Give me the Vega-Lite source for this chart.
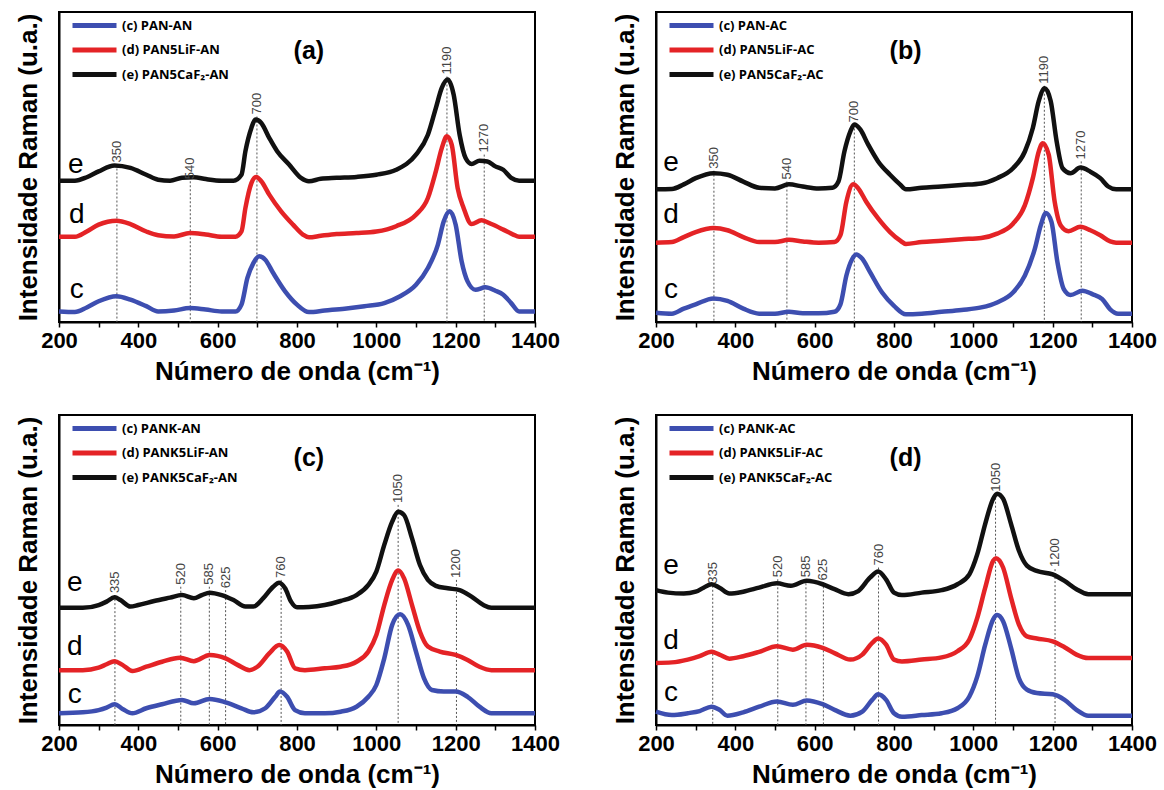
{
"$schema":"https://vega.github.io/schema/vega-lite/v6.json",
"background":"white",
"padding":{"left":14,"top":11,"right":5,"bottom":5},
"bounds":"flush",
"columns":2,
"spacing":{"column":121,"row":93},
"datasets":{
"spectra":[
{"p":"a","k":"e","x":200,"y":45.6},{"p":"a","k":"e","x":240,"y":45.6},{"p":"a","k":"e","x":270,"y":46.7},{"p":"a","k":"e","x":300,"y":48.6},{"p":"a","k":"e","x":340,"y":50.5},{"p":"a","k":"e","x":380,"y":49.7},{"p":"a","k":"e","x":420,"y":47.5},{"p":"a","k":"e","x":450,"y":45.9},{"p":"a","k":"e","x":480,"y":45.6},{"p":"a","k":"e","x":510,"y":46.5},{"p":"a","k":"e","x":540,"y":46.7},{"p":"a","k":"e","x":570,"y":46.1},{"p":"a","k":"e","x":610,"y":45.6},{"p":"a","k":"e","x":640,"y":45.6},{"p":"a","k":"e","x":660,"y":47.5},{"p":"a","k":"e","x":670,"y":55.1},{"p":"a","k":"e","x":685,"y":62.6},{"p":"a","k":"e","x":695,"y":65.3},{"p":"a","k":"e","x":710,"y":64.2},{"p":"a","k":"e","x":730,"y":59.4},{"p":"a","k":"e","x":750,"y":55.1},{"p":"a","k":"e","x":780,"y":50.8},{"p":"a","k":"e","x":810,"y":46.5},{"p":"a","k":"e","x":830,"y":45.4},{"p":"a","k":"e","x":860,"y":46.2},{"p":"a","k":"e","x":900,"y":46.5},{"p":"a","k":"e","x":950,"y":46.8},{"p":"a","k":"e","x":1000,"y":47.5},{"p":"a","k":"e","x":1050,"y":49.1},{"p":"a","k":"e","x":1100,"y":54.0},{"p":"a","k":"e","x":1130,"y":60.4},{"p":"a","k":"e","x":1150,"y":69.0},{"p":"a","k":"e","x":1165,"y":75.5},{"p":"a","k":"e","x":1180,"y":78.2},{"p":"a","k":"e","x":1195,"y":73.3},{"p":"a","k":"e","x":1210,"y":60.4},{"p":"a","k":"e","x":1225,"y":52.9},{"p":"a","k":"e","x":1240,"y":51.0},{"p":"a","k":"e","x":1260,"y":52.0},{"p":"a","k":"e","x":1280,"y":51.8},{"p":"a","k":"e","x":1300,"y":50.2},{"p":"a","k":"e","x":1320,"y":49.1},{"p":"a","k":"e","x":1340,"y":46.5},{"p":"a","k":"e","x":1360,"y":45.6},{"p":"a","k":"e","x":1400,"y":45.6},
{"p":"a","k":"d","x":200,"y":27.5},{"p":"a","k":"d","x":240,"y":27.5},{"p":"a","k":"d","x":270,"y":29.2},{"p":"a","k":"d","x":300,"y":31.4},{"p":"a","k":"d","x":345,"y":32.7},{"p":"a","k":"d","x":380,"y":31.6},{"p":"a","k":"d","x":420,"y":29.2},{"p":"a","k":"d","x":450,"y":28.0},{"p":"a","k":"d","x":490,"y":27.6},{"p":"a","k":"d","x":530,"y":28.7},{"p":"a","k":"d","x":570,"y":28.2},{"p":"a","k":"d","x":610,"y":27.5},{"p":"a","k":"d","x":645,"y":27.5},{"p":"a","k":"d","x":660,"y":29.2},{"p":"a","k":"d","x":670,"y":36.8},{"p":"a","k":"d","x":685,"y":44.8},{"p":"a","k":"d","x":697,"y":46.8},{"p":"a","k":"d","x":710,"y":45.4},{"p":"a","k":"d","x":730,"y":41.1},{"p":"a","k":"d","x":760,"y":35.7},{"p":"a","k":"d","x":790,"y":31.4},{"p":"a","k":"d","x":815,"y":28.2},{"p":"a","k":"d","x":830,"y":27.3},{"p":"a","k":"d","x":860,"y":27.8},{"p":"a","k":"d","x":900,"y":28.4},{"p":"a","k":"d","x":950,"y":28.7},{"p":"a","k":"d","x":1000,"y":29.2},{"p":"a","k":"d","x":1050,"y":30.9},{"p":"a","k":"d","x":1100,"y":34.6},{"p":"a","k":"d","x":1130,"y":40.0},{"p":"a","k":"d","x":1150,"y":48.6},{"p":"a","k":"d","x":1165,"y":56.1},{"p":"a","k":"d","x":1178,"y":59.9},{"p":"a","k":"d","x":1190,"y":57.2},{"p":"a","k":"d","x":1205,"y":43.2},{"p":"a","k":"d","x":1220,"y":36.8},{"p":"a","k":"d","x":1240,"y":31.6},{"p":"a","k":"d","x":1265,"y":32.8},{"p":"a","k":"d","x":1290,"y":31.6},{"p":"a","k":"d","x":1320,"y":29.8},{"p":"a","k":"d","x":1345,"y":28.2},{"p":"a","k":"d","x":1360,"y":27.5},{"p":"a","k":"d","x":1400,"y":27.5},
{"p":"a","k":"c","x":200,"y":3.4},{"p":"a","k":"c","x":240,"y":3.2},{"p":"a","k":"c","x":270,"y":4.7},{"p":"a","k":"c","x":300,"y":6.7},{"p":"a","k":"c","x":345,"y":8.3},{"p":"a","k":"c","x":380,"y":7.2},{"p":"a","k":"c","x":420,"y":5.1},{"p":"a","k":"c","x":450,"y":3.4},{"p":"a","k":"c","x":490,"y":3.7},{"p":"a","k":"c","x":530,"y":4.5},{"p":"a","k":"c","x":570,"y":4.0},{"p":"a","k":"c","x":610,"y":3.4},{"p":"a","k":"c","x":645,"y":3.4},{"p":"a","k":"c","x":660,"y":5.6},{"p":"a","k":"c","x":675,"y":14.2},{"p":"a","k":"c","x":690,"y":19.0},{"p":"a","k":"c","x":705,"y":21.2},{"p":"a","k":"c","x":720,"y":20.1},{"p":"a","k":"c","x":740,"y":15.8},{"p":"a","k":"c","x":770,"y":9.9},{"p":"a","k":"c","x":800,"y":5.6},{"p":"a","k":"c","x":830,"y":3.2},{"p":"a","k":"c","x":870,"y":3.7},{"p":"a","k":"c","x":920,"y":4.3},{"p":"a","k":"c","x":970,"y":5.1},{"p":"a","k":"c","x":1020,"y":6.1},{"p":"a","k":"c","x":1060,"y":8.3},{"p":"a","k":"c","x":1100,"y":12.0},{"p":"a","k":"c","x":1130,"y":17.4},{"p":"a","k":"c","x":1155,"y":24.9},{"p":"a","k":"c","x":1170,"y":32.5},{"p":"a","k":"c","x":1185,"y":35.7},{"p":"a","k":"c","x":1200,"y":31.4},{"p":"a","k":"c","x":1215,"y":19.6},{"p":"a","k":"c","x":1230,"y":13.1},{"p":"a","k":"c","x":1250,"y":10.4},{"p":"a","k":"c","x":1275,"y":11.2},{"p":"a","k":"c","x":1300,"y":10.1},{"p":"a","k":"c","x":1320,"y":8.8},{"p":"a","k":"c","x":1340,"y":6.1},{"p":"a","k":"c","x":1360,"y":3.4},{"p":"a","k":"c","x":1400,"y":3.4},
{"p":"b","k":"e","x":200,"y":42.8},{"p":"b","k":"e","x":240,"y":42.9},{"p":"b","k":"e","x":270,"y":44.4},{"p":"b","k":"e","x":300,"y":46.4},{"p":"b","k":"e","x":345,"y":48.0},{"p":"b","k":"e","x":380,"y":47.5},{"p":"b","k":"e","x":420,"y":45.3},{"p":"b","k":"e","x":460,"y":43.3},{"p":"b","k":"e","x":500,"y":43.1},{"p":"b","k":"e","x":535,"y":44.4},{"p":"b","k":"e","x":570,"y":43.7},{"p":"b","k":"e","x":610,"y":43.1},{"p":"b","k":"e","x":645,"y":43.3},{"p":"b","k":"e","x":660,"y":45.3},{"p":"b","k":"e","x":675,"y":55.0},{"p":"b","k":"e","x":690,"y":61.5},{"p":"b","k":"e","x":700,"y":63.7},{"p":"b","k":"e","x":715,"y":62.1},{"p":"b","k":"e","x":735,"y":57.2},{"p":"b","k":"e","x":760,"y":51.8},{"p":"b","k":"e","x":790,"y":47.5},{"p":"b","k":"e","x":815,"y":44.4},{"p":"b","k":"e","x":830,"y":42.8},{"p":"b","k":"e","x":870,"y":43.3},{"p":"b","k":"e","x":920,"y":43.7},{"p":"b","k":"e","x":970,"y":44.2},{"p":"b","k":"e","x":1020,"y":44.7},{"p":"b","k":"e","x":1060,"y":46.4},{"p":"b","k":"e","x":1100,"y":49.6},{"p":"b","k":"e","x":1130,"y":55.0},{"p":"b","k":"e","x":1150,"y":62.6},{"p":"b","k":"e","x":1165,"y":71.3},{"p":"b","k":"e","x":1180,"y":75.4},{"p":"b","k":"e","x":1195,"y":71.3},{"p":"b","k":"e","x":1210,"y":58.3},{"p":"b","k":"e","x":1225,"y":49.6},{"p":"b","k":"e","x":1245,"y":48.0},{"p":"b","k":"e","x":1270,"y":49.8},{"p":"b","k":"e","x":1295,"y":48.5},{"p":"b","k":"e","x":1320,"y":46.4},{"p":"b","k":"e","x":1340,"y":43.7},{"p":"b","k":"e","x":1360,"y":42.8},{"p":"b","k":"e","x":1400,"y":42.8},
{"p":"b","k":"d","x":200,"y":25.6},{"p":"b","k":"d","x":240,"y":25.8},{"p":"b","k":"d","x":270,"y":27.4},{"p":"b","k":"d","x":300,"y":29.0},{"p":"b","k":"d","x":345,"y":30.3},{"p":"b","k":"d","x":380,"y":29.6},{"p":"b","k":"d","x":420,"y":27.4},{"p":"b","k":"d","x":460,"y":25.8},{"p":"b","k":"d","x":500,"y":25.8},{"p":"b","k":"d","x":535,"y":26.5},{"p":"b","k":"d","x":570,"y":26.0},{"p":"b","k":"d","x":610,"y":25.6},{"p":"b","k":"d","x":650,"y":25.8},{"p":"b","k":"d","x":665,"y":28.0},{"p":"b","k":"d","x":680,"y":38.8},{"p":"b","k":"d","x":697,"y":44.4},{"p":"b","k":"d","x":710,"y":43.1},{"p":"b","k":"d","x":730,"y":38.8},{"p":"b","k":"d","x":760,"y":33.4},{"p":"b","k":"d","x":790,"y":29.0},{"p":"b","k":"d","x":815,"y":26.3},{"p":"b","k":"d","x":830,"y":25.2},{"p":"b","k":"d","x":870,"y":25.8},{"p":"b","k":"d","x":920,"y":26.2},{"p":"b","k":"d","x":970,"y":26.7},{"p":"b","k":"d","x":1020,"y":27.1},{"p":"b","k":"d","x":1060,"y":28.5},{"p":"b","k":"d","x":1100,"y":31.7},{"p":"b","k":"d","x":1130,"y":37.7},{"p":"b","k":"d","x":1150,"y":46.4},{"p":"b","k":"d","x":1165,"y":55.0},{"p":"b","k":"d","x":1175,"y":57.7},{"p":"b","k":"d","x":1190,"y":54.0},{"p":"b","k":"d","x":1205,"y":38.8},{"p":"b","k":"d","x":1220,"y":31.2},{"p":"b","k":"d","x":1240,"y":29.3},{"p":"b","k":"d","x":1270,"y":30.7},{"p":"b","k":"d","x":1295,"y":29.6},{"p":"b","k":"d","x":1320,"y":28.0},{"p":"b","k":"d","x":1345,"y":26.0},{"p":"b","k":"d","x":1360,"y":25.6},{"p":"b","k":"d","x":1400,"y":25.6},
{"p":"b","k":"c","x":200,"y":3.0},{"p":"b","k":"c","x":240,"y":2.7},{"p":"b","k":"c","x":270,"y":4.3},{"p":"b","k":"c","x":300,"y":5.7},{"p":"b","k":"c","x":345,"y":7.6},{"p":"b","k":"c","x":380,"y":6.8},{"p":"b","k":"c","x":420,"y":4.3},{"p":"b","k":"c","x":460,"y":2.7},{"p":"b","k":"c","x":500,"y":2.7},{"p":"b","k":"c","x":535,"y":3.3},{"p":"b","k":"c","x":570,"y":2.8},{"p":"b","k":"c","x":610,"y":2.8},{"p":"b","k":"c","x":650,"y":3.3},{"p":"b","k":"c","x":665,"y":5.7},{"p":"b","k":"c","x":680,"y":15.0},{"p":"b","k":"c","x":695,"y":20.4},{"p":"b","k":"c","x":705,"y":21.8},{"p":"b","k":"c","x":720,"y":20.4},{"p":"b","k":"c","x":740,"y":16.0},{"p":"b","k":"c","x":770,"y":9.5},{"p":"b","k":"c","x":800,"y":5.2},{"p":"b","k":"c","x":830,"y":2.5},{"p":"b","k":"c","x":870,"y":2.7},{"p":"b","k":"c","x":920,"y":3.3},{"p":"b","k":"c","x":970,"y":3.9},{"p":"b","k":"c","x":1020,"y":4.7},{"p":"b","k":"c","x":1060,"y":6.3},{"p":"b","k":"c","x":1100,"y":9.5},{"p":"b","k":"c","x":1130,"y":15.0},{"p":"b","k":"c","x":1155,"y":23.6},{"p":"b","k":"c","x":1170,"y":31.2},{"p":"b","k":"c","x":1183,"y":35.2},{"p":"b","k":"c","x":1197,"y":32.3},{"p":"b","k":"c","x":1212,"y":19.3},{"p":"b","k":"c","x":1228,"y":10.6},{"p":"b","k":"c","x":1245,"y":8.7},{"p":"b","k":"c","x":1275,"y":10.1},{"p":"b","k":"c","x":1300,"y":9.0},{"p":"b","k":"c","x":1325,"y":7.4},{"p":"b","k":"c","x":1345,"y":4.1},{"p":"b","k":"c","x":1365,"y":2.7},{"p":"b","k":"c","x":1400,"y":2.7},
{"p":"c","k":"e","x":200,"y":37.8},{"p":"c","k":"e","x":260,"y":37.8},{"p":"c","k":"e","x":300,"y":38.7},{"p":"c","k":"e","x":320,"y":39.8},{"p":"c","k":"e","x":340,"y":41.2},{"p":"c","k":"e","x":355,"y":40.3},{"p":"c","k":"e","x":380,"y":38.2},{"p":"c","k":"e","x":400,"y":38.7},{"p":"c","k":"e","x":440,"y":40.0},{"p":"c","k":"e","x":480,"y":41.1},{"p":"c","k":"e","x":510,"y":41.9},{"p":"c","k":"e","x":540,"y":40.9},{"p":"c","k":"e","x":560,"y":41.9},{"p":"c","k":"e","x":580,"y":42.7},{"p":"c","k":"e","x":610,"y":41.9},{"p":"c","k":"e","x":640,"y":40.3},{"p":"c","k":"e","x":670,"y":38.2},{"p":"c","k":"e","x":690,"y":38.2},{"p":"c","k":"e","x":715,"y":40.9},{"p":"c","k":"e","x":740,"y":44.6},{"p":"c","k":"e","x":755,"y":45.9},{"p":"c","k":"e","x":770,"y":44.1},{"p":"c","k":"e","x":785,"y":39.8},{"p":"c","k":"e","x":800,"y":38.0},{"p":"c","k":"e","x":830,"y":38.1},{"p":"c","k":"e","x":870,"y":38.7},{"p":"c","k":"e","x":910,"y":40.0},{"p":"c","k":"e","x":950,"y":41.9},{"p":"c","k":"e","x":980,"y":45.2},{"p":"c","k":"e","x":1000,"y":49.5},{"p":"c","k":"e","x":1020,"y":58.1},{"p":"c","k":"e","x":1040,"y":65.6},{"p":"c","k":"e","x":1055,"y":68.8},{"p":"c","k":"e","x":1070,"y":67.7},{"p":"c","k":"e","x":1090,"y":60.2},{"p":"c","k":"e","x":1110,"y":51.6},{"p":"c","k":"e","x":1130,"y":46.8},{"p":"c","k":"e","x":1150,"y":44.9},{"p":"c","k":"e","x":1180,"y":44.1},{"p":"c","k":"e","x":1210,"y":43.5},{"p":"c","k":"e","x":1240,"y":41.4},{"p":"c","k":"e","x":1270,"y":38.7},{"p":"c","k":"e","x":1290,"y":37.8},{"p":"c","k":"e","x":1400,"y":37.8},
{"p":"c","k":"d","x":200,"y":17.7},{"p":"c","k":"d","x":260,"y":17.7},{"p":"c","k":"d","x":300,"y":18.5},{"p":"c","k":"d","x":320,"y":19.6},{"p":"c","k":"d","x":340,"y":20.6},{"p":"c","k":"d","x":360,"y":19.4},{"p":"c","k":"d","x":385,"y":17.4},{"p":"c","k":"d","x":420,"y":18.8},{"p":"c","k":"d","x":460,"y":20.4},{"p":"c","k":"d","x":505,"y":21.7},{"p":"c","k":"d","x":540,"y":20.6},{"p":"c","k":"d","x":580,"y":22.6},{"p":"c","k":"d","x":620,"y":21.5},{"p":"c","k":"d","x":650,"y":19.4},{"p":"c","k":"d","x":680,"y":17.7},{"p":"c","k":"d","x":700,"y":18.8},{"p":"c","k":"d","x":730,"y":23.1},{"p":"c","k":"d","x":755,"y":25.8},{"p":"c","k":"d","x":775,"y":23.7},{"p":"c","k":"d","x":795,"y":18.3},{"p":"c","k":"d","x":820,"y":17.7},{"p":"c","k":"d","x":870,"y":18.3},{"p":"c","k":"d","x":910,"y":18.8},{"p":"c","k":"d","x":950,"y":20.4},{"p":"c","k":"d","x":980,"y":23.7},{"p":"c","k":"d","x":1000,"y":29.0},{"p":"c","k":"d","x":1020,"y":38.7},{"p":"c","k":"d","x":1040,"y":46.8},{"p":"c","k":"d","x":1055,"y":49.8},{"p":"c","k":"d","x":1070,"y":47.3},{"p":"c","k":"d","x":1090,"y":38.7},{"p":"c","k":"d","x":1110,"y":30.1},{"p":"c","k":"d","x":1130,"y":25.3},{"p":"c","k":"d","x":1160,"y":23.7},{"p":"c","k":"d","x":1200,"y":22.6},{"p":"c","k":"d","x":1230,"y":21.0},{"p":"c","k":"d","x":1260,"y":18.8},{"p":"c","k":"d","x":1290,"y":17.7},{"p":"c","k":"d","x":1400,"y":17.7},
{"p":"c","k":"c","x":200,"y":3.8},{"p":"c","k":"c","x":260,"y":4.1},{"p":"c","k":"c","x":300,"y":4.8},{"p":"c","k":"c","x":320,"y":5.6},{"p":"c","k":"c","x":340,"y":6.7},{"p":"c","k":"c","x":360,"y":5.2},{"p":"c","k":"c","x":385,"y":3.8},{"p":"c","k":"c","x":420,"y":5.4},{"p":"c","k":"c","x":460,"y":6.7},{"p":"c","k":"c","x":510,"y":8.1},{"p":"c","k":"c","x":540,"y":7.0},{"p":"c","k":"c","x":580,"y":8.4},{"p":"c","k":"c","x":620,"y":7.3},{"p":"c","k":"c","x":660,"y":5.4},{"p":"c","k":"c","x":690,"y":4.1},{"p":"c","k":"c","x":720,"y":5.4},{"p":"c","k":"c","x":745,"y":9.1},{"p":"c","k":"c","x":757,"y":10.8},{"p":"c","k":"c","x":775,"y":9.1},{"p":"c","k":"c","x":795,"y":4.8},{"p":"c","k":"c","x":820,"y":3.8},{"p":"c","k":"c","x":870,"y":3.8},{"p":"c","k":"c","x":910,"y":4.3},{"p":"c","k":"c","x":950,"y":5.9},{"p":"c","k":"c","x":980,"y":9.1},{"p":"c","k":"c","x":1000,"y":12.9},{"p":"c","k":"c","x":1020,"y":21.5},{"p":"c","k":"c","x":1040,"y":32.3},{"p":"c","k":"c","x":1060,"y":35.7},{"p":"c","k":"c","x":1080,"y":32.3},{"p":"c","k":"c","x":1100,"y":23.7},{"p":"c","k":"c","x":1120,"y":15.1},{"p":"c","k":"c","x":1140,"y":11.3},{"p":"c","k":"c","x":1170,"y":10.8},{"p":"c","k":"c","x":1200,"y":10.8},{"p":"c","k":"c","x":1230,"y":9.1},{"p":"c","k":"c","x":1260,"y":5.9},{"p":"c","k":"c","x":1290,"y":3.8},{"p":"c","k":"c","x":1400,"y":3.8},
{"p":"d","k":"e","x":200,"y":43.5},{"p":"d","k":"e","x":230,"y":42.7},{"p":"d","k":"e","x":270,"y":42.4},{"p":"d","k":"e","x":300,"y":43.0},{"p":"d","k":"e","x":320,"y":44.3},{"p":"d","k":"e","x":340,"y":45.4},{"p":"d","k":"e","x":360,"y":44.3},{"p":"d","k":"e","x":385,"y":42.4},{"p":"d","k":"e","x":420,"y":43.0},{"p":"d","k":"e","x":460,"y":44.3},{"p":"d","k":"e","x":505,"y":45.7},{"p":"d","k":"e","x":540,"y":44.9},{"p":"d","k":"e","x":580,"y":46.5},{"p":"d","k":"e","x":620,"y":45.4},{"p":"d","k":"e","x":650,"y":43.8},{"p":"d","k":"e","x":685,"y":42.2},{"p":"d","k":"e","x":710,"y":43.2},{"p":"d","k":"e","x":740,"y":47.6},{"p":"d","k":"e","x":760,"y":49.5},{"p":"d","k":"e","x":780,"y":47.0},{"p":"d","k":"e","x":800,"y":42.7},{"p":"d","k":"e","x":820,"y":41.9},{"p":"d","k":"e","x":870,"y":42.7},{"p":"d","k":"e","x":920,"y":43.5},{"p":"d","k":"e","x":960,"y":45.4},{"p":"d","k":"e","x":990,"y":48.6},{"p":"d","k":"e","x":1010,"y":55.1},{"p":"d","k":"e","x":1030,"y":64.9},{"p":"d","k":"e","x":1050,"y":73.0},{"p":"d","k":"e","x":1060,"y":74.6},{"p":"d","k":"e","x":1075,"y":73.0},{"p":"d","k":"e","x":1095,"y":64.9},{"p":"d","k":"e","x":1115,"y":56.2},{"p":"d","k":"e","x":1135,"y":51.4},{"p":"d","k":"e","x":1160,"y":49.7},{"p":"d","k":"e","x":1200,"y":48.6},{"p":"d","k":"e","x":1230,"y":46.5},{"p":"d","k":"e","x":1260,"y":43.8},{"p":"d","k":"e","x":1290,"y":42.2},{"p":"d","k":"e","x":1400,"y":42.2},
{"p":"d","k":"d","x":200,"y":20.0},{"p":"d","k":"d","x":240,"y":20.2},{"p":"d","k":"d","x":280,"y":21.1},{"p":"d","k":"d","x":310,"y":22.2},{"p":"d","k":"d","x":340,"y":23.6},{"p":"d","k":"d","x":360,"y":22.7},{"p":"d","k":"d","x":385,"y":21.4},{"p":"d","k":"d","x":420,"y":22.2},{"p":"d","k":"d","x":460,"y":23.6},{"p":"d","k":"d","x":505,"y":25.4},{"p":"d","k":"d","x":545,"y":24.3},{"p":"d","k":"d","x":580,"y":25.9},{"p":"d","k":"d","x":620,"y":24.9},{"p":"d","k":"d","x":650,"y":23.2},{"p":"d","k":"d","x":690,"y":21.1},{"p":"d","k":"d","x":720,"y":22.7},{"p":"d","k":"d","x":745,"y":26.5},{"p":"d","k":"d","x":760,"y":27.9},{"p":"d","k":"d","x":780,"y":25.9},{"p":"d","k":"d","x":800,"y":21.1},{"p":"d","k":"d","x":820,"y":20.5},{"p":"d","k":"d","x":870,"y":21.1},{"p":"d","k":"d","x":920,"y":21.8},{"p":"d","k":"d","x":960,"y":23.8},{"p":"d","k":"d","x":990,"y":27.6},{"p":"d","k":"d","x":1010,"y":34.6},{"p":"d","k":"d","x":1030,"y":44.3},{"p":"d","k":"d","x":1050,"y":53.0},{"p":"d","k":"d","x":1057,"y":53.8},{"p":"d","k":"d","x":1075,"y":50.8},{"p":"d","k":"d","x":1095,"y":41.1},{"p":"d","k":"d","x":1115,"y":32.4},{"p":"d","k":"d","x":1135,"y":28.6},{"p":"d","k":"d","x":1160,"y":27.9},{"p":"d","k":"d","x":1200,"y":27.0},{"p":"d","k":"d","x":1230,"y":25.1},{"p":"d","k":"d","x":1260,"y":22.7},{"p":"d","k":"d","x":1290,"y":21.6},{"p":"d","k":"d","x":1400,"y":21.6},
{"p":"d","k":"c","x":200,"y":4.3},{"p":"d","k":"c","x":240,"y":3.2},{"p":"d","k":"c","x":280,"y":3.8},{"p":"d","k":"c","x":310,"y":4.5},{"p":"d","k":"c","x":340,"y":5.9},{"p":"d","k":"c","x":360,"y":4.9},{"p":"d","k":"c","x":380,"y":3.0},{"p":"d","k":"c","x":420,"y":4.1},{"p":"d","k":"c","x":460,"y":5.9},{"p":"d","k":"c","x":505,"y":7.6},{"p":"d","k":"c","x":545,"y":6.5},{"p":"d","k":"c","x":580,"y":7.9},{"p":"d","k":"c","x":620,"y":6.7},{"p":"d","k":"c","x":650,"y":4.9},{"p":"d","k":"c","x":690,"y":3.0},{"p":"d","k":"c","x":720,"y":4.3},{"p":"d","k":"c","x":745,"y":8.1},{"p":"d","k":"c","x":760,"y":9.9},{"p":"d","k":"c","x":780,"y":8.1},{"p":"d","k":"c","x":800,"y":3.8},{"p":"d","k":"c","x":820,"y":2.7},{"p":"d","k":"c","x":870,"y":3.2},{"p":"d","k":"c","x":920,"y":3.8},{"p":"d","k":"c","x":960,"y":5.4},{"p":"d","k":"c","x":990,"y":9.2},{"p":"d","k":"c","x":1010,"y":15.7},{"p":"d","k":"c","x":1030,"y":25.9},{"p":"d","k":"c","x":1050,"y":34.1},{"p":"d","k":"c","x":1060,"y":35.5},{"p":"d","k":"c","x":1075,"y":33.5},{"p":"d","k":"c","x":1095,"y":24.9},{"p":"d","k":"c","x":1115,"y":15.1},{"p":"d","k":"c","x":1135,"y":11.4},{"p":"d","k":"c","x":1160,"y":10.3},{"p":"d","k":"c","x":1200,"y":9.9},{"p":"d","k":"c","x":1230,"y":8.1},{"p":"d","k":"c","x":1260,"y":4.9},{"p":"d","k":"c","x":1290,"y":3.0},{"p":"d","k":"c","x":1400,"y":3.0}
],
"peaks":[
{"p":"a","x":346,"top":50.8,"label":"350"},{"p":"a","x":531,"top":45.4,"label":"540"},{"p":"a","x":699,"top":66.3,"label":"700"},{"p":"a","x":1178,"top":79.2,"label":"1190"},{"p":"a","x":1272,"top":54.0,"label":"1270"},
{"p":"b","x":346,"top":48.8,"label":"350"},{"p":"b","x":530,"top":45.3,"label":"540"},{"p":"b","x":700,"top":63.7,"label":"700"},{"p":"b","x":1179,"top":76.2,"label":"1190"},{"p":"b","x":1272,"top":51.8,"label":"1270"},
{"p":"c","x":341,"top":41.9,"label":"335"},{"p":"c","x":507,"top":44.6,"label":"520"},{"p":"c","x":579,"top":44.6,"label":"585"},{"p":"c","x":620,"top":43.5,"label":"625"},{"p":"c","x":760,"top":46.8,"label":"760"},{"p":"c","x":1055,"top":71.0,"label":"1050"},{"p":"c","x":1202,"top":46.8,"label":"1200"},
{"p":"d","x":343,"top":44.9,"label":"335"},{"p":"d","x":507,"top":47.0,"label":"520"},{"p":"d","x":578,"top":47.0,"label":"585"},{"p":"d","x":622,"top":46.0,"label":"625"},{"p":"d","x":761,"top":50.8,"label":"760"},{"p":"d","x":1056,"top":74.6,"label":"1050"},{"p":"d","x":1206,"top":50.3,"label":"1200"}
],
"letters":[
{"p":"a","x":242,"y":50.8,"t":"e"},{"p":"a","x":245,"y":34.6,"t":"d"},{"p":"a","x":245,"y":10.4,"t":"c"},
{"p":"b","x":238,"y":51.2,"t":"e"},{"p":"b","x":238,"y":34.5,"t":"d"},{"p":"b","x":238,"y":10.4,"t":"c"},
{"p":"c","x":240,"y":45.7,"t":"e"},{"p":"c","x":240,"y":25.3,"t":"d"},{"p":"c","x":240,"y":9.7,"t":"c"},
{"p":"d","x":238,"y":51.4,"t":"e"},{"p":"d","x":238,"y":27.0,"t":"d"},{"p":"d","x":238,"y":10.3,"t":"c"}
],
"titles":[
{"p":"a","x":830,"y":87.3,"t":"(a)"},{"p":"b","x":829,"y":87.5,"t":"(b)"},{"p":"c","x":830,"y":86.0,"t":"(c)"},{"p":"d","x":829,"y":86.0,"t":"(d)"}
]
},
"concat":[
{"width":476,"height":310,"layer":[
{"data":{"name":"peaks"},"transform":[{"filter":"datum.p=='a'"}],"mark":{"type":"rule","strokeDash":[2,2],"color":"#555","strokeWidth":1},"encoding":{"x":{"field":"x","type":"quantitative","scale":{"domain":[200,1400]},"title":"Número de onda (cm⁻¹)"},"y":{"field":"top","type":"quantitative","scale":{"domain":[0,100]},"title":"Intensidade Raman (u.a.)"},"y2":{"datum":0}}},
{"data":{"name":"spectra"},"transform":[{"filter":"datum.p=='a'"}],"mark":{"type":"line","strokeWidth":4.5,"interpolate":"monotone"},"encoding":{"x":{"field":"x","type":"quantitative","title":"Número de onda (cm⁻¹)"},"y":{"field":"y","type":"quantitative","title":"Intensidade Raman (u.a.)"},"color":{"field":"k","type":"nominal","scale":{"domain":["c","d","e"],"range":["#3d4eb0","#e42326","#111111"]},"legend":{"title":null,"symbolType":"M0,0H4.4","labelExpr":"datum.label=='c' ? '(c) PAN-AN' : datum.label=='d' ? '(d) PAN5LiF-AN' : '(e) PAN5CaF₂-AN'"}}}},
{"data":{"name":"peaks"},"transform":[{"filter":"datum.p=='a'"}],"mark":{"type":"text","angle":270,"align":"left","baseline":"middle","dx":2,"fontSize":13,"color":"#444","font":"Liberation Sans"},"encoding":{"x":{"field":"x","type":"quantitative","title":"Número de onda (cm⁻¹)"},"y":{"field":"top","type":"quantitative","title":"Intensidade Raman (u.a.)"},"text":{"field":"label","type":"nominal"}}},
{"data":{"name":"letters"},"transform":[{"filter":"datum.p=='a'"}],"mark":{"type":"text","fontSize":28,"font":"Liberation Sans","color":"#000","baseline":"middle"},"encoding":{"x":{"field":"x","type":"quantitative","title":"Número de onda (cm⁻¹)"},"y":{"field":"y","type":"quantitative","title":"Intensidade Raman (u.a.)"},"text":{"field":"t","type":"nominal"}}},
{"data":{"name":"titles"},"transform":[{"filter":"datum.p=='a'"}],"mark":{"type":"text","fontSize":25,"fontWeight":"bold","font":"Liberation Sans","color":"#000","baseline":"middle"},"encoding":{"x":{"field":"x","type":"quantitative","title":"Número de onda (cm⁻¹)"},"y":{"field":"y","type":"quantitative","title":"Intensidade Raman (u.a.)"},"text":{"field":"t","type":"nominal"}}}
]},
{"width":476,"height":310,"layer":[
{"data":{"name":"peaks"},"transform":[{"filter":"datum.p=='b'"}],"mark":{"type":"rule","strokeDash":[2,2],"color":"#555","strokeWidth":1},"encoding":{"x":{"field":"x","type":"quantitative","scale":{"domain":[200,1400]},"title":"Número de onda (cm⁻¹)"},"y":{"field":"top","type":"quantitative","scale":{"domain":[0,100]},"title":"Intensidade Raman (u.a.)"},"y2":{"datum":0}}},
{"data":{"name":"spectra"},"transform":[{"filter":"datum.p=='b'"}],"mark":{"type":"line","strokeWidth":4.5,"interpolate":"monotone"},"encoding":{"x":{"field":"x","type":"quantitative","title":"Número de onda (cm⁻¹)"},"y":{"field":"y","type":"quantitative","title":"Intensidade Raman (u.a.)"},"color":{"field":"k","type":"nominal","scale":{"domain":["c","d","e"],"range":["#3d4eb0","#e42326","#111111"]},"legend":{"title":null,"symbolType":"M0,0H4.4","labelExpr":"datum.label=='c' ? '(c) PAN-AC' : datum.label=='d' ? '(d) PAN5LiF-AC' : '(e) PAN5CaF₂-AC'"}}}},
{"data":{"name":"peaks"},"transform":[{"filter":"datum.p=='b'"}],"mark":{"type":"text","angle":270,"align":"left","baseline":"middle","dx":2,"fontSize":13,"color":"#444","font":"Liberation Sans"},"encoding":{"x":{"field":"x","type":"quantitative","title":"Número de onda (cm⁻¹)"},"y":{"field":"top","type":"quantitative","title":"Intensidade Raman (u.a.)"},"text":{"field":"label","type":"nominal"}}},
{"data":{"name":"letters"},"transform":[{"filter":"datum.p=='b'"}],"mark":{"type":"text","fontSize":28,"font":"Liberation Sans","color":"#000","baseline":"middle"},"encoding":{"x":{"field":"x","type":"quantitative","title":"Número de onda (cm⁻¹)"},"y":{"field":"y","type":"quantitative","title":"Intensidade Raman (u.a.)"},"text":{"field":"t","type":"nominal"}}},
{"data":{"name":"titles"},"transform":[{"filter":"datum.p=='b'"}],"mark":{"type":"text","fontSize":25,"fontWeight":"bold","font":"Liberation Sans","color":"#000","baseline":"middle"},"encoding":{"x":{"field":"x","type":"quantitative","title":"Número de onda (cm⁻¹)"},"y":{"field":"y","type":"quantitative","title":"Intensidade Raman (u.a.)"},"text":{"field":"t","type":"nominal"}}}
]},
{"width":476,"height":310,"layer":[
{"data":{"name":"peaks"},"transform":[{"filter":"datum.p=='c'"}],"mark":{"type":"rule","strokeDash":[2,2],"color":"#555","strokeWidth":1},"encoding":{"x":{"field":"x","type":"quantitative","scale":{"domain":[200,1400]},"title":"Número de onda (cm⁻¹)"},"y":{"field":"top","type":"quantitative","scale":{"domain":[0,100]},"title":"Intensidade Raman (u.a.)"},"y2":{"datum":0}}},
{"data":{"name":"spectra"},"transform":[{"filter":"datum.p=='c'"}],"mark":{"type":"line","strokeWidth":4.5,"interpolate":"monotone"},"encoding":{"x":{"field":"x","type":"quantitative","title":"Número de onda (cm⁻¹)"},"y":{"field":"y","type":"quantitative","title":"Intensidade Raman (u.a.)"},"color":{"field":"k","type":"nominal","scale":{"domain":["c","d","e"],"range":["#3d4eb0","#e42326","#111111"]},"legend":{"title":null,"symbolType":"M0,0H4.4","labelExpr":"datum.label=='c' ? '(c) PANK-AN' : datum.label=='d' ? '(d) PANK5LiF-AN' : '(e) PANK5CaF₂-AN'"}}}},
{"data":{"name":"peaks"},"transform":[{"filter":"datum.p=='c'"}],"mark":{"type":"text","angle":270,"align":"left","baseline":"middle","dx":2,"fontSize":13,"color":"#444","font":"Liberation Sans"},"encoding":{"x":{"field":"x","type":"quantitative","title":"Número de onda (cm⁻¹)"},"y":{"field":"top","type":"quantitative","title":"Intensidade Raman (u.a.)"},"text":{"field":"label","type":"nominal"}}},
{"data":{"name":"letters"},"transform":[{"filter":"datum.p=='c'"}],"mark":{"type":"text","fontSize":28,"font":"Liberation Sans","color":"#000","baseline":"middle"},"encoding":{"x":{"field":"x","type":"quantitative","title":"Número de onda (cm⁻¹)"},"y":{"field":"y","type":"quantitative","title":"Intensidade Raman (u.a.)"},"text":{"field":"t","type":"nominal"}}},
{"data":{"name":"titles"},"transform":[{"filter":"datum.p=='c'"}],"mark":{"type":"text","fontSize":25,"fontWeight":"bold","font":"Liberation Sans","color":"#000","baseline":"middle"},"encoding":{"x":{"field":"x","type":"quantitative","title":"Número de onda (cm⁻¹)"},"y":{"field":"y","type":"quantitative","title":"Intensidade Raman (u.a.)"},"text":{"field":"t","type":"nominal"}}}
]},
{"width":476,"height":310,"layer":[
{"data":{"name":"peaks"},"transform":[{"filter":"datum.p=='d'"}],"mark":{"type":"rule","strokeDash":[2,2],"color":"#555","strokeWidth":1},"encoding":{"x":{"field":"x","type":"quantitative","scale":{"domain":[200,1400]},"title":"Número de onda (cm⁻¹)"},"y":{"field":"top","type":"quantitative","scale":{"domain":[0,100]},"title":"Intensidade Raman (u.a.)"},"y2":{"datum":0}}},
{"data":{"name":"spectra"},"transform":[{"filter":"datum.p=='d'"}],"mark":{"type":"line","strokeWidth":4.5,"interpolate":"monotone"},"encoding":{"x":{"field":"x","type":"quantitative","title":"Número de onda (cm⁻¹)"},"y":{"field":"y","type":"quantitative","title":"Intensidade Raman (u.a.)"},"color":{"field":"k","type":"nominal","scale":{"domain":["c","d","e"],"range":["#3d4eb0","#e42326","#111111"]},"legend":{"title":null,"symbolType":"M0,0H4.4","labelExpr":"datum.label=='c' ? '(c) PANK-AC' : datum.label=='d' ? '(d) PANK5LiF-AC' : '(e) PANK5CaF₂-AC'"}}}},
{"data":{"name":"peaks"},"transform":[{"filter":"datum.p=='d'"}],"mark":{"type":"text","angle":270,"align":"left","baseline":"middle","dx":2,"fontSize":13,"color":"#444","font":"Liberation Sans"},"encoding":{"x":{"field":"x","type":"quantitative","title":"Número de onda (cm⁻¹)"},"y":{"field":"top","type":"quantitative","title":"Intensidade Raman (u.a.)"},"text":{"field":"label","type":"nominal"}}},
{"data":{"name":"letters"},"transform":[{"filter":"datum.p=='d'"}],"mark":{"type":"text","fontSize":28,"font":"Liberation Sans","color":"#000","baseline":"middle"},"encoding":{"x":{"field":"x","type":"quantitative","title":"Número de onda (cm⁻¹)"},"y":{"field":"y","type":"quantitative","title":"Intensidade Raman (u.a.)"},"text":{"field":"t","type":"nominal"}}},
{"data":{"name":"titles"},"transform":[{"filter":"datum.p=='d'"}],"mark":{"type":"text","fontSize":25,"fontWeight":"bold","font":"Liberation Sans","color":"#000","baseline":"middle"},"encoding":{"x":{"field":"x","type":"quantitative","title":"Número de onda (cm⁻¹)"},"y":{"field":"y","type":"quantitative","title":"Intensidade Raman (u.a.)"},"text":{"field":"t","type":"nominal"}}}
]}
],
"resolve":{"scale":{"color":"independent"},"legend":{"color":"independent"}},
"config":{
"view":{"stroke":"#000","strokeWidth":2},
"font":"Liberation Sans",
"axis":{"grid":false,"domainColor":"#000","domainWidth":2,"tickColor":"#000","tickWidth":1.5,"labelFont":"Liberation Sans","labelFontWeight":"bold","labelFontSize":22,"labelColor":"#000","titleFont":"Liberation Sans","titleFontWeight":"bold","titleFontSize":26,"titleColor":"#000"},
"axisX":{"values":[200,300,400,500,600,700,800,900,1000,1100,1200,1300,1400],"labelExpr":"datum.value % 200 == 0 ? datum.label : ''","tickSize":5,"labelPadding":3,"titlePadding":7,"labelFlush":false,"format":"d"},
"axisY":{"labels":false,"ticks":false,"titlePadding":18},
"legend":{"orient":"top-left","offset":1,"padding":0,"symbolSize":400,"symbolStrokeWidth":5,"labelFont":"Open Sans","labelFontWeight":"bold","labelFontSize":13,"labelColor":"#000","labelOffset":37,"rowPadding":1.5}
}
}
